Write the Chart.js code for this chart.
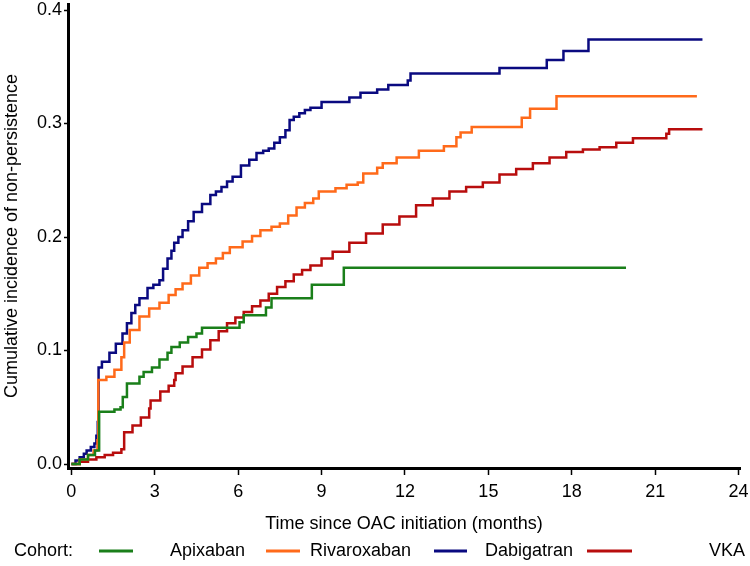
<!DOCTYPE html>
<html>
<head>
<meta charset="utf-8">
<script src="https://cdn.jsdelivr.net/npm/chart.js@4"></script>
<style>
    html, body { margin: 0; padding: 0; background: #fff; }
    #wrap { width: 750px; height: 566px; position: relative; }
</style>
</head>
<body>
<div id="wrap"><canvas id="incidenceChart" width="750" height="566"></canvas></div>
<script>
// Cohorts shown in the legend
let cohorts = ['Apixaban', 'Rivaroxaban', 'Dabigatran', 'VKA'];
let cohortColors = ['#1a7f1a', '#ff6a1a', '#0a0a80', '#b80d0d'];

// Apixaban (months, cumulative incidence)
let apixabanTime = [0, 0.3, 0.6, 0.85, 1.0, 1.55, 1.77, 1.85, 2.0, 2.45, 2.6, 2.9, 3.17, 3.46, 3.6, 3.9, 4.2, 4.5, 4.7, 6.05, 6.2, 7.0, 7.2, 8.65, 9.8, 19.95];
let apixabanRisk = [0, 0.004, 0.008, 0.012, 0.046, 0.048, 0.050, 0.059, 0.071, 0.077, 0.081, 0.085, 0.092, 0.098, 0.103, 0.107, 0.112, 0.115, 0.120, 0.125, 0.131, 0.138, 0.146, 0.158, 0.173, 0.173];

// Rivaroxaban
let rivaroxabanTime = [0, 0.3, 0.6, 0.8, 0.94, 0.97, 1.26, 1.55, 1.8, 1.9, 2.1, 2.45, 2.8, 3.17, 3.5, 3.75, 4.0, 4.3, 4.6, 4.9, 5.2, 5.45, 5.7, 6.16, 6.5, 6.8, 7.2, 7.5, 7.8, 8.1, 8.4, 8.7, 8.9, 9.5, 9.9, 10.3, 10.5, 11.0, 11.2, 11.7, 12.5, 13.4, 13.85, 14.0, 14.4, 16.2, 16.5, 17.45, 22.5];
let rivaroxabanRisk = [0, 0.004, 0.008, 0.012, 0.021, 0.074, 0.077, 0.083, 0.094, 0.107, 0.118, 0.130, 0.137, 0.142, 0.149, 0.154, 0.159, 0.166, 0.173, 0.177, 0.181, 0.186, 0.191, 0.196, 0.201, 0.206, 0.209, 0.212, 0.219, 0.226, 0.230, 0.234, 0.240, 0.243, 0.246, 0.248, 0.256, 0.261, 0.265, 0.270, 0.276, 0.280, 0.288, 0.292, 0.297, 0.305, 0.313, 0.324, 0.324];

// Dabigatran
let dabigatranTime = [0, 0.15, 0.3, 0.45, 0.55, 0.7, 0.83, 0.9, 0.95, 0.98, 1.1, 1.37, 1.6, 1.84, 2.0, 2.16, 2.3, 2.45, 2.74, 2.95, 3.17, 3.3, 3.46, 3.6, 3.7, 3.85, 4.0, 4.2, 4.4, 4.7, 5.0, 5.2, 5.4, 5.6, 5.8, 6.1, 6.4, 6.66, 6.9, 7.1, 7.3, 7.5, 7.7, 7.85, 8.0, 8.2, 8.4, 8.6, 9.0, 10.0, 10.4, 11.0, 11.4, 12.1, 12.2, 15.4, 17.1, 17.7, 18.6, 22.7];
let dabigatranRisk = [0, 0.003, 0.006, 0.009, 0.012, 0.015, 0.018, 0.025, 0.037, 0.085, 0.090, 0.098, 0.106, 0.115, 0.124, 0.133, 0.140, 0.146, 0.155, 0.158, 0.162, 0.172, 0.181, 0.188, 0.195, 0.200, 0.206, 0.214, 0.222, 0.229, 0.237, 0.240, 0.244, 0.249, 0.253, 0.263, 0.268, 0.274, 0.276, 0.278, 0.283, 0.288, 0.294, 0.303, 0.306, 0.309, 0.312, 0.314, 0.319, 0.323, 0.327, 0.330, 0.334, 0.338, 0.344, 0.349, 0.356, 0.364, 0.374, 0.374];

// VKA
let vkaTime = [0, 0.3, 0.6, 0.9, 1.2, 1.5, 1.8, 1.9, 2.2, 2.5, 2.8, 2.85, 3.2, 3.5, 3.7, 3.75, 4.0, 4.36, 4.7, 5.0, 5.3, 5.6, 5.9, 6.2, 6.5, 6.8, 7.1, 7.4, 7.7, 8.0, 8.3, 8.6, 9.0, 9.4, 10.0, 10.6, 11.2, 11.8, 12.4, 13.0, 13.6, 14.2, 14.8, 15.4, 16.0, 16.6, 17.2, 17.8, 18.4, 19.0, 19.6, 20.2, 21.4, 21.5, 22.7];
let vkaRisk = [0, 0.002, 0.004, 0.006, 0.008, 0.010, 0.013, 0.028, 0.034, 0.041, 0.049, 0.056, 0.064, 0.069, 0.074, 0.080, 0.086, 0.094, 0.101, 0.109, 0.117, 0.124, 0.129, 0.134, 0.139, 0.144, 0.150, 0.156, 0.161, 0.167, 0.171, 0.175, 0.181, 0.187, 0.195, 0.203, 0.211, 0.218, 0.228, 0.234, 0.240, 0.244, 0.248, 0.255, 0.260, 0.265, 0.270, 0.275, 0.277, 0.279, 0.283, 0.287, 0.291, 0.295, 0.295];

// Axis ticks
let xTickValues = [0, 3, 6, 9, 12, 15, 18, 21, 24];
let yTickValues = [0, 0.1, 0.2, 0.3, 0.4];

let seriesTimes = [apixabanTime, rivaroxabanTime, dabigatranTime, vkaTime];
let seriesRisks = [apixabanRisk, rivaroxabanRisk, dabigatranRisk, vkaRisk];

const FONT = 'Liberation Sans, Arial, sans-serif';

// Legend drawn under the axis title, like the original
let legendLayout = {
    y: 551,
    titleX: 14,
    lineStart: [99, 266, 434, 587],
    lineEnd: [133, 300, 467, 632],
    labelRight: [245, 411, 573, 745]
};

const cohortLegend = {
    id: 'cohortLegend',
    afterDraw(chart) {
        let ctx = chart.ctx;
        ctx.save();
        ctx.font = '18px ' + FONT;
        ctx.fillStyle = '#000';
        ctx.textBaseline = 'middle';
        ctx.textAlign = 'left';
        ctx.fillText('Cohort:', legendLayout.titleX, legendLayout.y);
        chart.data.datasets.forEach((ds, i) => {
            ctx.strokeStyle = ds.borderColor;
            ctx.lineWidth = 3;
            ctx.beginPath();
            ctx.moveTo(legendLayout.lineStart[i], legendLayout.y);
            ctx.lineTo(legendLayout.lineEnd[i], legendLayout.y);
            ctx.stroke();
            ctx.textAlign = 'right';
            ctx.fillText(ds.label, legendLayout.labelRight[i], legendLayout.y);
        });
        ctx.restore();
    }
};

function buildDatasets() {
    return cohorts.map((name, i) => ({
        label: name,
        data: seriesTimes[i].map((t, j) => ({ x: t, y: seriesRisks[i][j] })),
        borderColor: cohortColors[i],
        borderWidth: 2.5,
        stepped: true,
        pointRadius: 0,
        fill: false
    }));
}

var ctx = document.getElementById('incidenceChart').getContext('2d');
var chart = new Chart(ctx, {
    type: 'line',
    data: { datasets: buildDatasets() },
    options: {
        responsive: false,
        animation: false,
        layout: { padding: { top: 4, right: 10, bottom: 28, left: 0 } },
        plugins: {
            legend: { display: false },
            tooltip: { enabled: false }
        },
        scales: {
            x: {
                type: 'linear',
                min: -0.12,
                max: 24.05,
                afterBuildTicks: scale => { scale.ticks = xTickValues.map(v => ({ value: v })); },
                afterFit: scale => { scale.height = 70; scale.paddingLeft = 0; scale.paddingRight = 0; },
                border: { color: '#000', width: 3 },
                grid: { drawOnChartArea: false, drawTicks: true, tickLength: 7, color: '#000', tickWidth: 1.5 },
                ticks: { color: '#000', padding: 6, font: { family: FONT, size: 18 }, maxRotation: 0 },
                title: {
                    display: true,
                    text: 'Time since OAC initiation (months)',
                    color: '#000',
                    font: { family: FONT, size: 18 },
                    padding: { top: 0, bottom: 3 }
                }
            },
            y: {
                type: 'linear',
                min: -0.0035,
                max: 0.4053,
                afterBuildTicks: scale => { scale.ticks = yTickValues.map(v => ({ value: v })); },
                afterFit: scale => { scale.width = 68; scale.paddingTop = 0; scale.paddingBottom = 0; },
                border: { color: '#000', width: 3 },
                grid: { drawOnChartArea: false, drawTicks: true, tickLength: 4, color: '#000', tickWidth: 1.5 },
                ticks: {
                    color: '#000',
                    padding: 2,
                    font: { family: FONT, size: 18 },
                    callback: value => value.toFixed(1)
                },
                title: {
                    display: true,
                    text: 'Cumulative incidence of non-persistence',
                    color: '#000',
                    font: { family: FONT, size: 18 },
                    padding: { top: 1, bottom: 0 }
                }
            }
        }
    },
    plugins: [cohortLegend]
});
</script>
</body>
</html>
